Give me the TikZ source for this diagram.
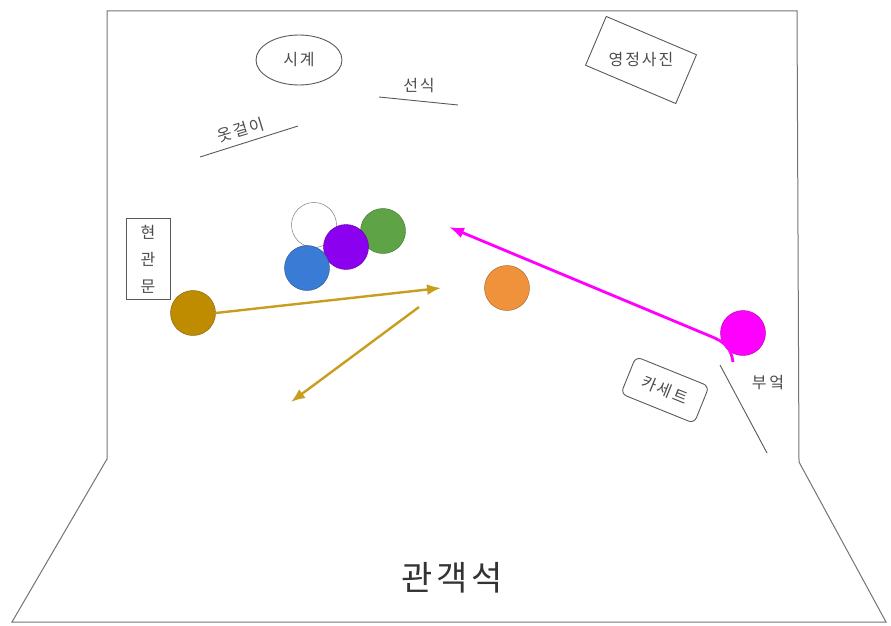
\documentclass[tikz,border=0pt]{standalone}
\usepackage{fontspec}
\newfontfamily\kr{Noto Sans CJK KR}
\usepackage{xcolor}
\usetikzlibrary{arrows.meta,positioning,shapes.geometric}

\definecolor{goldball}{RGB}{191,140,0}
\definecolor{goldline}{RGB}{201,158,30}
\definecolor{magball}{RGB}{255,0,255}
\definecolor{orangeball}{RGB}{240,146,60}
\definecolor{greenball}{RGB}{94,164,70}
\definecolor{purpleball}{RGB}{140,0,240}
\definecolor{blueball}{RGB}{58,123,213}

\tikzset{
  tag/.style={font=\kr\fontsize{16}{27}\selectfont\addfontfeature{LetterSpace=12}, text=black!70, inner sep=1pt},
  ball/.style={circle, fill=#1, draw=#1!65!black, minimum size=45pt, inner sep=0pt},
  stage/.style={draw=black!55, line width=1pt},
  prop/.style={draw=black!65, line width=0.9pt},
  goldarrow/.style={goldline, line width=2.4pt, -{Latex[length=14pt,width=11pt]}},
}

\begin{document}
\begin{tikzpicture}[x=1pt,y=-1pt]
  \useasboundingbox (0,0) rectangle (891,626);
  % stage outline
  \draw[stage] (12,622) -- (107,459) -- (107,11) -- (797,11) -- (799,462) -- (886,622) -- cycle;
  % props on the back wall
  \node[tag, draw=black!65, line width=0.9pt, ellipse, minimum width=86pt, minimum height=50pt] (clock) at (299,60) {시계};
  \node[tag] (altar) at (419,86) {선식};
  \draw[prop] (379,97) -- (458,105);
  \node[tag, rotate=17] (hanger) at (241,130) {옷걸이};
  \draw[prop] (200,157) -- (298,126);
  \node[prop, rotate=-23, minimum width=98pt, minimum height=53pt] (photobox) at (641,60) {};
  \node[tag] (photo) at (photobox.center) {영정사진};
  % door and kitchen
  \node[tag, prop, align=center, minimum width=44pt, minimum height=81pt] (door) at (148,259) {현\\관\\문};
  \node[tag, prop, rounded corners=6pt, rotate=-22, minimum width=79pt, minimum height=40pt] (tape) at (665,390) {카세트};
  \node[tag] (kitchen) at (768,383) {부\,엌};
  \draw[prop] (720,365) -- (767,453);
  % actors
  \node[ball=white, draw=black!60] (white) at (314,225) {};
  \node[ball=greenball] (green) at (383,231) {};
  \node[ball=purpleball] (purple) at (346,247) {};
  \node[ball=blueball] (blue) at (307,268) {};
  \node[ball=orangeball] (orange) at (507,288) {};
  \node[ball=goldball] (gold) at (193,313) {};
  \node[ball=magball] (mag) at (743,333) {};
  % moves
  \coordinate (goldend) at (441,288);
  \coordinate (goldback) at (419,307);
  \coordinate (goldexit) at (291,402);
  \draw[goldarrow] (gold.east) -- (goldend);
  \draw[goldarrow] (goldback) -- (goldexit);
  \coordinate (magstart) at (733,362);
  \coordinate (magend) at (449,227);
  \draw[magball, line width=2.8pt, -{Latex[length=15pt,width=11pt]}] (magstart) .. controls (731,348) and (725,342) .. (710,336) -- (magend);
  % audience
  \node[font=\kr\fontsize{34}{36}\selectfont\addfontfeature{LetterSpace=12}, text=black!80] (audience) at (452,578) {관객석};
\end{tikzpicture}
\end{document}
